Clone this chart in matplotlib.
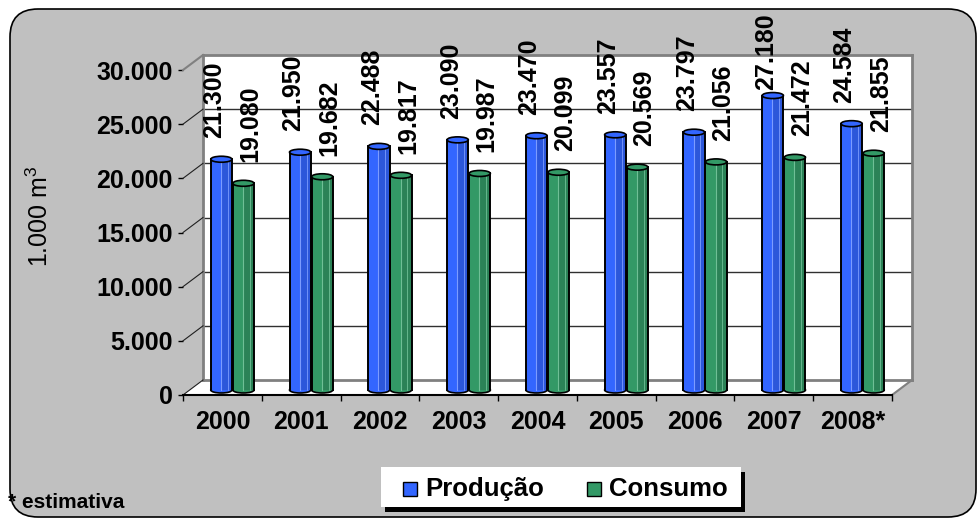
import matplotlib
matplotlib.use("Agg")
import matplotlib.pyplot as plt
from matplotlib import transforms
from matplotlib.patches import Rectangle, Ellipse, Polygon, FancyBboxPatch
from matplotlib.lines import Line2D

plt.rcParams["font.family"] = "Liberation Sans"
plt.rcParams["mathtext.fontset"] = "custom"
plt.rcParams["mathtext.rm"] = "Liberation Sans"

years = ["2000", "2001", "2002", "2003", "2004", "2005", "2006", "2007", "2008*"]
producao = [21300, 21950, 22488, 23090, 23470, 23557, 23797, 27180, 24584]
consumo = [19080, 19682, 19817, 19987, 20099, 20569, 21056, 21472, 21855]
y_ticks = [0, 5000, 10000, 15000, 20000, 25000, 30000]
series_names = ["Produção", "Consumo"]

blue, blue_dark, blue_light = "#3366FF", "#2C57DA", "#7C9CFF"
green, green_dark, green_light = "#339966", "#2B8257", "#6FBF96"

W, H = 977, 518
fig = plt.figure(figsize=(W / 100, H / 100), dpi=100)
fig.patch.set_facecolor("white")
ident = transforms.IdentityTransform()


def box(l, t, r, b):
    # pixel box (top-left origin) -> figure fraction rect
    return [l / W, 1 - b / H, (r - l) / W, (b - t) / H]


def fmt(v):
    return f"{v:,}".replace(",", ".")


# grey rounded chart area
frame = FancyBboxPatch((10, 1), 966, 508, boxstyle="round,pad=0,rounding_size=28",
                       transform=ident, fc="#C0C0C0", ec="black", lw=1.2, zorder=-1)
fig.add_artist(frame)

# back wall
ax_back = fig.add_axes(box(203, 55, 912, 380))
ax_back.set_xlim(0, 9)
ax_back.set_ylim(0, 30000)
ax_back.set_xticks([])
ax_back.set_yticks([])
ax_back.set_facecolor("white")
for s in ax_back.spines.values():
    s.set_color("#808080")
    s.set_linewidth(2)
for v in y_ticks[1:-1]:
    ax_back.axhline(v, color="#303030", lw=1)

# front plane (axis ticks and labels)
ax_front = fig.add_axes(box(183, 70, 892, 395))
ax_front.set_xlim(0, 9)
ax_front.set_ylim(0, 30000)
ax_front.patch.set_visible(False)
for side in ["left", "top", "right"]:
    ax_front.spines[side].set_visible(False)
ax_front.spines["bottom"].set_color("black")
ax_front.spines["bottom"].set_linewidth(1.5)
ax_front.set_yticks(y_ticks, [fmt(v) for v in y_ticks])
ax_front.tick_params(axis="y", direction="out", length=3.6, width=1, pad=4, labelsize=18)
ax_front.set_xticks(range(10), [""] * 10)
ax_front.set_xticks([i + 0.5 for i in range(9)], years, minor=True)
ax_front.tick_params(axis="x", which="major", direction="out", length=4, width=1)
ax_front.tick_params(axis="x", which="minor", length=0, pad=11, labelsize=18)
for lbl in ax_front.get_yticklabels() + ax_front.get_xticklabels(minor=True):
    lbl.set_fontweight("bold")

# floor between front axis and back wall
f0 = ax_front.transData.transform((0, 0))
f9 = ax_front.transData.transform((9, 0))
b0 = ax_back.transData.transform((0, 0))
b9 = ax_back.transData.transform((9, 0))
ax_back.add_patch(Polygon([f0, f9, b9, b0], closed=True, transform=ident, fc="white",
                          ec="none", clip_on=False, zorder=1))
ax_back.add_line(Line2D([f9[0], b9[0]], [f9[1], b9[1]], transform=ident,
                        color="#808080", lw=1.5, clip_on=False))

# slanted lines from the value axis ticks to the back wall
for v in y_ticks:
    p1 = ax_front.transData.transform((0, v))
    p2 = ax_back.transData.transform((0, v))
    col, lw = ("#808080", 1.5) if v == y_ticks[-1] else ("#202020", 0.8)
    ax_front.add_line(Line2D([p1[0], p2[0]], [p1[1], p2[1]], transform=ident,
                             color=col, lw=lw, clip_on=False))

# bars sit between the back wall and the front plane
ax_bars = fig.add_axes(box(193, 65, 902, 390))
ax_bars.set_xlim(0, 9)
ax_bars.set_ylim(0, 30000)
ax_bars.axis("off")

w = 0.27
cap = 30000 / 325 * 6  # ellipse height, about 6 px


def cylinder(ax, xc, v, face, shade, light):
    ax.add_patch(Ellipse((xc, 0), w, cap, fc=face, ec="black", lw=1.2, clip_on=False, zorder=2))
    ax.bar(xc, v, w, color=face, lw=0, zorder=3, clip_on=False)
    ax.bar(xc + w * 0.25, v, w * 0.5, color=shade, lw=0, zorder=3, clip_on=False)
    ax.plot([xc - w * 0.02] * 2, [0, v], color=light, lw=0.8, zorder=3, clip_on=False)
    ax.plot([xc + w * 0.3] * 2, [0, v], color=light, lw=0.6, zorder=3, clip_on=False)
    for xe in (xc - w / 2, xc + w / 2):
        ax.plot([xe, xe], [0, v], color="black", lw=1.4, zorder=4, clip_on=False)
    ax.add_patch(Ellipse((xc, v), w, cap, fc=face, ec="black", lw=1.2, zorder=5, clip_on=False))


for i in range(len(years)):
    for xc, v, dx, cols in [(i + 0.5 - 0.14, producao[i], -7, (blue, blue_dark, blue_light)),
                            (i + 0.5 + 0.14, consumo[i], 7, (green, green_dark, green_light))]:
        cylinder(ax_bars, xc, v, *cols)
        top_px = H - ax_bars.transData.transform((xc, v))[1]
        lift = min(21, top_px - 90)
        tr = transforms.offset_copy(ax_bars.transData, fig=fig, x=dx, y=lift, units="dots")
        ax_bars.text(xc, v, fmt(v), transform=tr, rotation=90, ha="center", va="bottom",
                     fontsize=18, fontweight="bold", clip_on=False, zorder=6)

# axis title and footnote
fig.text(40 / W, 1 - 216 / H, "1.000 m$^3$", rotation=90, ha="center", va="center", fontsize=18)
fig.text(8 / W, 1 - 503 / H, "* estimativa", ha="left", va="center", fontsize=15, fontweight="bold")

# legend box with black shadow
fig.add_artist(Rectangle((385, H - 512), 360, 40, transform=ident, fc="black", ec="none"))
fig.add_artist(Rectangle((381, H - 507), 360, 40, transform=ident, fc="white", ec="none"))
for x0, col, name in [(403, blue, series_names[0]), (587, green, series_names[1])]:
    fig.add_artist(Rectangle((x0, H - 496), 14, 14, transform=ident, fc=col, ec="black", lw=1))
    fig.text((x0 + 22) / W, 1 - 489 / H, name, ha="left", va="center", fontsize=18.5,
             fontweight="bold")

fig.savefig("out.png", dpi=100)
